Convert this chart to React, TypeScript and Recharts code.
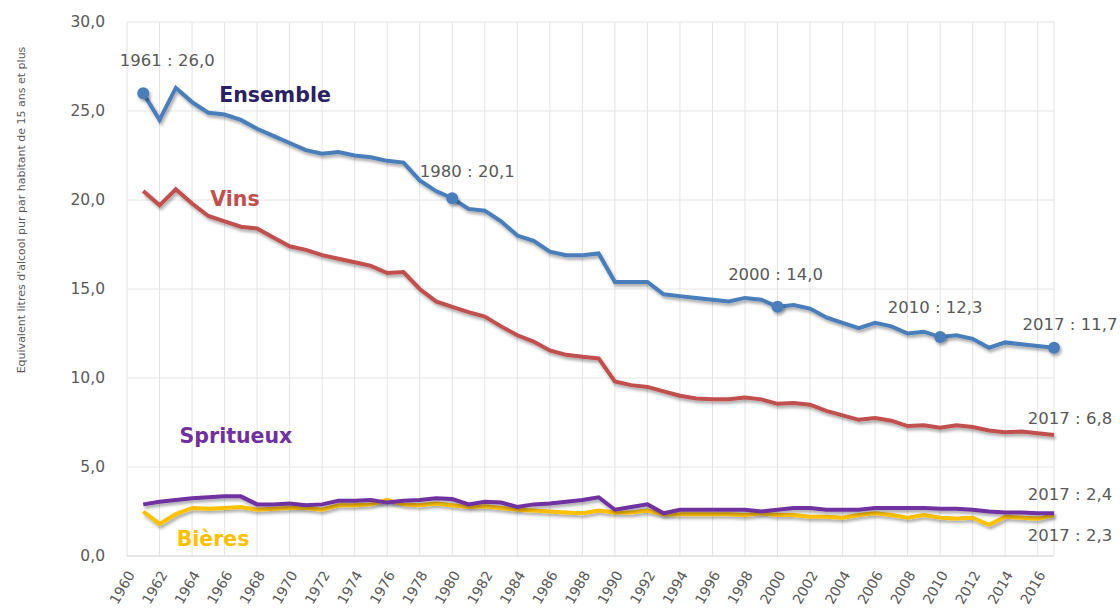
import { LineChart, Line, XAxis, YAxis, CartesianGrid, ReferenceDot, LabelList } from "recharts";

// consommation d'alcool en France, 1961-2017
const years = [
  1961, 1962, 1963, 1964, 1965, 1966, 1967, 1968, 1969, 1970,
  1971, 1972, 1973, 1974, 1975, 1976, 1977, 1978, 1979, 1980,
  1981, 1982, 1983, 1984, 1985, 1986, 1987, 1988, 1989, 1990,
  1991, 1992, 1993, 1994, 1995, 1996, 1997, 1998, 1999, 2000,
  2001, 2002, 2003, 2004, 2005, 2006, 2007, 2008, 2009, 2010,
  2011, 2012, 2013, 2014, 2015, 2016, 2017,
];

const ensemble = [
  26.0, 24.5, 26.3, 25.5, 24.9, 24.8, 24.5, 24.0, 23.6, 23.2,
  22.8, 22.6, 22.7, 22.5, 22.4, 22.2, 22.1, 21.1, 20.5, 20.1,
  19.5, 19.4, 18.8, 18.0, 17.7, 17.1, 16.9, 16.9, 17.0, 15.4,
  15.4, 15.4, 14.7, 14.6, 14.5, 14.4, 14.3, 14.5, 14.4, 14.0,
  14.1, 13.9, 13.4, 13.1, 12.8, 13.1, 12.9, 12.5, 12.6, 12.3,
  12.4, 12.2, 11.7, 12.0, 11.9, 11.8, 11.7,
];

const vins = [
  20.5, 19.7, 20.6, 19.8, 19.1, 18.8, 18.5, 18.4, 17.9, 17.4,
  17.2, 16.9, 16.7, 16.5, 16.3, 15.9, 15.95, 15.0, 14.3, 14.0,
  13.7, 13.45, 12.9, 12.4, 12.05, 11.55, 11.3, 11.2, 11.1, 9.8,
  9.6, 9.5, 9.25, 9.0, 8.85, 8.8, 8.8, 8.9, 8.8, 8.55,
  8.6, 8.5, 8.15, 7.9, 7.65, 7.75, 7.6, 7.3, 7.35, 7.2,
  7.35, 7.25, 7.05, 6.95, 7.0, 6.9, 6.8,
];

const spiritueux = [
  2.9, 3.05, 3.15, 3.25, 3.3, 3.35, 3.35, 2.9, 2.9, 2.95,
  2.85, 2.9, 3.1, 3.1, 3.15, 3.0, 3.1, 3.15, 3.25, 3.2,
  2.9, 3.05, 3.0, 2.75, 2.9, 2.95, 3.05, 3.15, 3.3, 2.6,
  2.75, 2.9, 2.4, 2.6, 2.6, 2.6, 2.6, 2.6, 2.5, 2.6,
  2.7, 2.7, 2.6, 2.6, 2.6, 2.7, 2.7, 2.7, 2.7, 2.65,
  2.65, 2.6, 2.5, 2.45, 2.45, 2.4, 2.4,
];

const bieres = [
  2.5, 1.8, 2.35, 2.7, 2.65, 2.7, 2.75, 2.6, 2.65, 2.7,
  2.7, 2.6, 2.85, 2.85, 2.9, 3.15, 2.9, 2.85, 2.95, 2.85,
  2.75, 2.8, 2.7, 2.6, 2.55, 2.5, 2.45, 2.4, 2.55, 2.45,
  2.45, 2.55, 2.35, 2.35, 2.35, 2.35, 2.35, 2.3, 2.4, 2.3,
  2.3, 2.2, 2.2, 2.15, 2.3, 2.4, 2.3, 2.15, 2.3, 2.15,
  2.1, 2.15, 1.75, 2.2, 2.15, 2.1, 2.3,
];

const xTicks = [
  1960, 1962, 1964, 1966, 1968, 1970, 1972, 1974, 1976, 1978,
  1980, 1982, 1984, 1986, 1988, 1990, 1992, 1994, 1996, 1998,
  2000, 2002, 2004, 2006, 2008, 2010, 2012, 2014, 2016,
];
const yTicks = [0, 5, 10, 15, 20, 25, 30];

const markedYears = [1961, 1980, 2000, 2010, 2017];

const data = years.map((year, i) => ({
  year,
  ensemble: ensemble[i],
  vins: vins[i],
  spiritueux: spiritueux[i],
  bieres: bieres[i],
}));

const BLUE = "#4a7ebb";
const RED = "#c0504d";
const PURPLE = "#7030a0";
const YELLOW = "#ffc000";
const GREY = "#595959";
const FONT = "'DejaVu Sans', sans-serif";

const fmt = (v: number) => v.toFixed(1).replace(".", ",");

// offsets des étiquettes "année : valeur" par rapport au point
const makeAnnot = (offsets: Record<number, [number, number]>) => (props: any) => {
  const { x, y, value, index } = props;
  const year = years[index];
  const off = offsets[year];
  if (!off) return null;
  return (
    <text
      x={x + off[0]}
      y={y + off[1]}
      textAnchor="middle"
      dominantBaseline="central"
      fontSize={16.5}
      fill={GREY}
      fontFamily={FONT}
    >
      {`${year} : ${fmt(value)}`}
    </text>
  );
};

const ensembleDot = (props: any) => {
  const { cx, cy, payload, index } = props;
  if (!markedYears.includes(payload.year)) return <g key={`d${index}`} />;
  return <circle key={`d${index}`} cx={cx} cy={cy} r={6} fill={BLUE} filter="url(#shadow)" />;
};

const XTick = ({ x, y, payload }: any) => (
  <text
    transform={`translate(${x + 4},${y + 16}) rotate(-60)`}
    textAnchor="end"
    dominantBaseline="central"
    fontSize={14}
    fill={GREY}
    fontFamily={FONT}
  >
    {payload.value}
  </text>
);

const YTick = ({ x, y, payload }: any) => (
  <text x={x - 22} y={y} textAnchor="end" dominantBaseline="central" fontSize={15.5} fill={GREY} fontFamily={FONT}>
    {fmt(payload.value)}
  </text>
);

const YTitle = (props: any) => {
  const vb = props.viewBox;
  return (
    <text
      transform={`translate(${vb.x + 21},${vb.y + 188}) rotate(-90)`}
      textAnchor="middle"
      dominantBaseline="central"
      fontSize={11}
      fill={GREY}
      fontFamily={FONT}
    >
      Equivalent litres d'alcool pur par habitant de 15 ans et plus
    </text>
  );
};

const seriesLabel = (value: string, fill: string) => ({
  value,
  position: "center" as const,
  fill,
  fontSize: 20.5,
  fontWeight: 700,
  fontFamily: FONT,
});

export default function App() {
  return (
    <div style={{ position: "absolute", left: 0, top: 0, width: 1120, height: 612, background: "#fff", fontFamily: FONT }}>
      <LineChart width={1120} height={612} data={data} margin={{ top: 22, right: 66, left: 0, bottom: 6 }}>
        <defs>
          <filter id="shadow" filterUnits="userSpaceOnUse" x="0" y="0" width="1120" height="612">
            <feDropShadow dx="1.5" dy="2.5" stdDeviation="1.5" floodColor="#000" floodOpacity="0.35" />
          </filter>
        </defs>
        <CartesianGrid stroke="#e4e4e4" />
        <XAxis
          dataKey="year"
          type="number"
          domain={[1960, 2017]}
          ticks={xTicks}
          interval={0}
          height={50}
          tickSize={0}
          tickMargin={0}
          tickLine={false}
          axisLine={{ stroke: "#d9d9d9" }}
          tick={<XTick />}
        />
        <YAxis
          domain={[0, 30]}
          ticks={yTicks}
          width={127}
          tickSize={0}
          tickMargin={0}
          tickLine={false}
          axisLine={false}
          tick={<YTick />}
          label={{ content: <YTitle /> }}
        />
        <Line dataKey="bieres" stroke={YELLOW} strokeWidth={4} dot={false} isAnimationActive={false} filter="url(#shadow)">
          <LabelList dataKey="bieres" content={makeAnnot({ 2017: [16, 20] })} />
        </Line>
        <Line dataKey="spiritueux" stroke={PURPLE} strokeWidth={4} dot={false} isAnimationActive={false} filter="url(#shadow)">
          <LabelList dataKey="spiritueux" content={makeAnnot({ 2017: [16, -19] })} />
        </Line>
        <Line dataKey="vins" stroke={RED} strokeWidth={4} dot={false} isAnimationActive={false} filter="url(#shadow)">
          <LabelList dataKey="vins" content={makeAnnot({ 2017: [16, -16] })} />
        </Line>
        <Line dataKey="ensemble" stroke={BLUE} strokeWidth={4} dot={ensembleDot} activeDot={false} isAnimationActive={false} filter="url(#shadow)">
          <LabelList
            dataKey="ensemble"
            content={makeAnnot({ 1961: [24, -33], 1980: [15, -27], 2000: [-2, -32], 2010: [-5, -30], 2017: [16, -23] })}
          />
        </Line>
        <ReferenceDot x={1969.1} y={25.92} r={1} fill="none" stroke="none" label={seriesLabel("Ensemble", "#2a2163")} />
        <ReferenceDot x={1966.64} y={20.07} r={1} fill="none" stroke="none" label={seriesLabel("Vins", RED)} />
        <ReferenceDot x={1966.7} y={6.73} r={1} fill="none" stroke="none" label={seriesLabel("Spritueux", PURPLE)} />
        <ReferenceDot x={1965.29} y={0.98} r={1} fill="none" stroke="none" label={seriesLabel("Bières", YELLOW)} />
      </LineChart>
    </div>
  );
}
